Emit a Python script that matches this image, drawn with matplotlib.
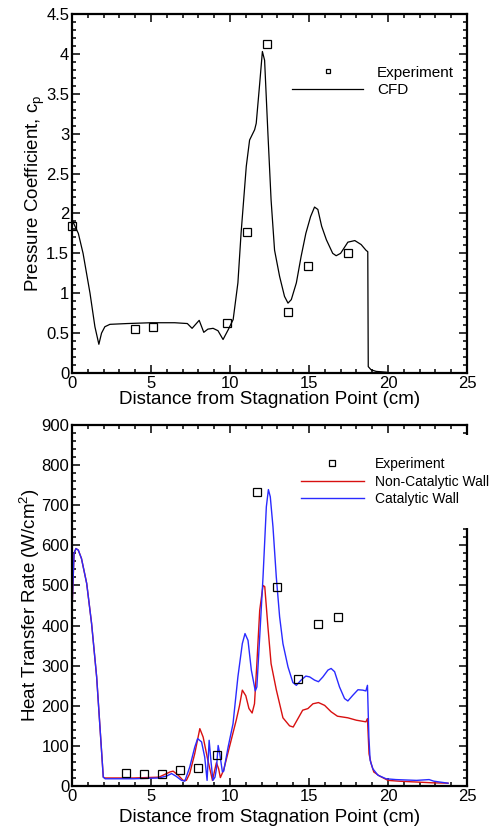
import matplotlib
matplotlib.use('Agg')
import matplotlib.pyplot as plt
from matplotlib.ticker import MultipleLocator, FuncFormatter

plt.rcParams['font.family'] = ['Liberation Sans', 'DejaVu Sans']
plt.rcParams['font.size'] = 12

# Pressure coefficient (top panel)
cfd_x = [0, 0.4, 0.7, 1.14, 1.45, 1.7, 1.87, 2.08, 2.4, 3.5, 5.0, 6.5, 7.3, 7.6, 8.05,
         8.34, 8.6, 8.93, 9.24, 9.56, 9.88, 10.2, 10.5, 10.7, 11.03, 11.24, 11.56, 11.66,
         11.88, 12.05, 12.19, 12.4, 12.6, 12.82, 13.14, 13.45, 13.67, 13.88, 14.2, 14.5,
         14.8, 15.1, 15.35, 15.56, 15.8, 16.1, 16.5, 16.72, 17.0, 17.46, 17.9, 18.3, 18.6,
         18.72, 18.75, 18.93, 19.25, 19.9, 20.0]
cfd_y = [1.92, 1.75, 1.5, 1.0, 0.58, 0.36, 0.5, 0.58, 0.61, 0.62, 0.63, 0.63, 0.62, 0.56, 0.66,
         0.51, 0.55, 0.56, 0.53, 0.42, 0.54, 0.67, 1.13, 1.75, 2.59, 2.92, 3.05, 3.13,
         3.63, 4.03, 3.92, 3.0, 2.17, 1.54, 1.21, 0.96, 0.876, 0.92, 1.13, 1.46,
         1.75, 1.96, 2.08, 2.05, 1.84, 1.67, 1.5, 1.47, 1.5, 1.64, 1.66, 1.61, 1.54,
         1.52, 0.08, 0.04, 0.02, 0.01, 0.0]
exp_cp_x = [0, 3.98, 5.14, 9.83, 11.1, 12.36, 13.67, 14.93, 17.46]
exp_cp_y = [1.84, 0.55, 0.58, 0.63, 1.77, 4.12, 0.76, 1.34, 1.51]

# Heat transfer rate (bottom panel)
noncat_x = [0, 0.13, 0.25, 0.4, 0.6, 0.93, 1.24, 1.56, 1.77, 1.98, 2.1, 3.9, 5.5, 6.2, 6.4,
            6.72, 7.03, 7.24, 7.45, 7.77, 8.09, 8.3, 8.6, 8.89, 9.03, 9.14, 9.28, 9.39, 9.6,
            9.95, 10.4, 10.6, 10.78, 11.0, 11.2, 11.4, 11.55, 11.7, 11.88, 12.09, 12.2, 12.4,
            12.6, 12.93, 13.35, 13.77, 14.0, 14.3, 14.6, 14.93, 15.25, 15.6, 15.99, 16.4,
            16.8, 17.46, 18.0, 18.6, 18.7, 18.8, 18.93, 19.1, 19.46, 20.0, 20.7, 22.8, 23.8]
noncat_y = [438, 580, 592, 588, 567, 505, 405, 272, 147, 22, 20, 20, 22, 35, 37,
            27, 14, 14, 31, 81, 143, 122, 64, 14, 39, 58, 43, 21, 40,
            95, 165, 200, 239, 225, 193, 182, 205, 305, 438, 500, 497, 397,
            305, 240, 170, 150, 147, 168, 189, 193, 205, 208, 201, 185,
            174, 170, 164, 160, 168, 80, 56, 35, 25, 14, 12, 8, 7]
cat_x = [0, 0.13, 0.25, 0.4, 0.6, 0.93, 1.24, 1.56, 1.77, 1.98, 2.1, 3.9, 5.5, 6.0, 6.3,
         6.6, 6.93, 7.14, 7.45, 7.77, 7.95, 8.2, 8.4, 8.55, 8.68, 8.8, 8.92, 9.05, 9.14,
         9.25, 9.35, 9.52, 9.6, 9.88, 10.19, 10.5, 10.78, 10.95, 11.14, 11.35, 11.6, 11.7,
         11.88, 12.09, 12.3, 12.43, 12.55, 12.72, 12.93, 13.14, 13.35, 13.67, 13.98, 14.2,
         14.5, 14.8, 15.04, 15.35, 15.6, 15.88, 16.2, 16.4, 16.62, 16.93, 17.25, 17.46,
         17.77, 18.1, 18.4, 18.6, 18.7, 18.79, 18.87, 19.04, 19.36, 19.88, 20.5, 21.8,
         22.6, 22.9, 23.8]
cat_y = [438, 580, 592, 588, 567, 505, 405, 272, 147, 22, 18, 18, 20, 25, 31,
         24, 14, 12, 47, 97, 118, 110, 72, 14, 114, 60, 14, 22, 43,
         101, 81, 35, 37, 97, 155, 272, 355, 380, 363, 289, 237, 247,
         372, 521, 696, 739, 721, 646, 521, 422, 355, 297, 258, 251,
         264, 274, 272, 264, 260, 272, 289, 293, 285, 247, 218, 212,
         226, 240, 239, 237, 251, 122, 64, 43, 27, 18, 16, 14,
         16, 12, 7]
exp_q_x = [3.41, 4.55, 5.7, 6.84, 7.98, 9.2, 11.73, 13.0, 14.3, 15.56, 16.83]
exp_q_y = [33, 31, 29, 39, 45, 77, 733, 496, 267, 403, 422]

W, H = 495, 827
fig = plt.figure(figsize=(W / 100, H / 100), dpi=100)
ax1 = fig.add_axes([72 / W, 1 - 373 / H, 395 / W, 359 / H])
ax2 = fig.add_axes([72 / W, 1 - 786 / H, 395 / W, 361 / H])

fmt = FuncFormatter(lambda v, p: '%g' % v)


def style_axes(ax, ymax, ymajor, yminor, xlabelpad):
    ax.set_xlim(0, 25)
    ax.set_ylim(0, ymax)
    ax.xaxis.set_major_locator(MultipleLocator(5))
    ax.xaxis.set_minor_locator(MultipleLocator(1))
    ax.yaxis.set_major_locator(MultipleLocator(ymajor))
    ax.yaxis.set_minor_locator(MultipleLocator(yminor))
    ax.xaxis.set_major_formatter(fmt)
    ax.yaxis.set_major_formatter(fmt)
    ax.tick_params(which='both', direction='in', top=True, right=True, width=1.1,
                   labelsize=12, pad=2)
    ax.tick_params(which='major', length=5.5)
    ax.tick_params(which='minor', length=3)
    for s in ax.spines.values():
        s.set_linewidth(1.6)
    ax.set_xlabel('Distance from Stagnation Point (cm)', fontsize=13.5, labelpad=xlabelpad)


# top panel
ax1.plot(exp_cp_x, exp_cp_y, 's', mfc='none', mec='black', ms=5.5, mew=0.9,
         label='Experiment', clip_on=False, zorder=4)
ax1.plot(cfd_x, cfd_y, color='black', lw=0.9, label='CFD')
style_axes(ax1, 4.5, 0.5, 0.1, 0.5)
ax1.set_ylabel('Pressure Coefficient, c$_\\mathregular{p}$', fontsize=13.5, labelpad=-0.5)
ax1.legend(loc='upper left', bbox_to_anchor=(284 / W, 1 - 58 / H),
           bbox_transform=fig.transFigure, frameon=False, fontsize=11,
           handlelength=4.7, handletextpad=0.9, labelspacing=0.25, borderpad=0,
           markerscale=0.65)

# bottom panel
ax2.plot(exp_q_x, exp_q_y, 's', mfc='none', mec='black', ms=5.5, mew=0.9,
         label='Experiment', zorder=4)
ax2.plot(noncat_x, noncat_y, color='#d81010', lw=1.0, label='Non-Catalytic Wall')
ax2.plot(cat_x, cat_y, color='#2a2aff', lw=1.0, label='Catalytic Wall')
style_axes(ax2, 900, 100, 20, 3.5)
ax2.set_ylabel('Heat Transfer Rate (W/cm$^\\mathregular{2}$)', fontsize=13.5, labelpad=-0.5)
leg = ax2.legend(loc='upper left', bbox_to_anchor=(272 / W, 1 - 428 / H),
                 bbox_transform=fig.transFigure, frameon=True, fontsize=10,
                 handlelength=4.5, handletextpad=0.8, labelspacing=0.25,
                 borderpad=1.6, markerscale=0.75, fancybox=False)
leg.get_frame().set_facecolor('white')
leg.get_frame().set_edgecolor('none')
leg.get_frame().set_alpha(1)
leg.set_zorder(10)

fig.savefig('out.png', dpi=100)
